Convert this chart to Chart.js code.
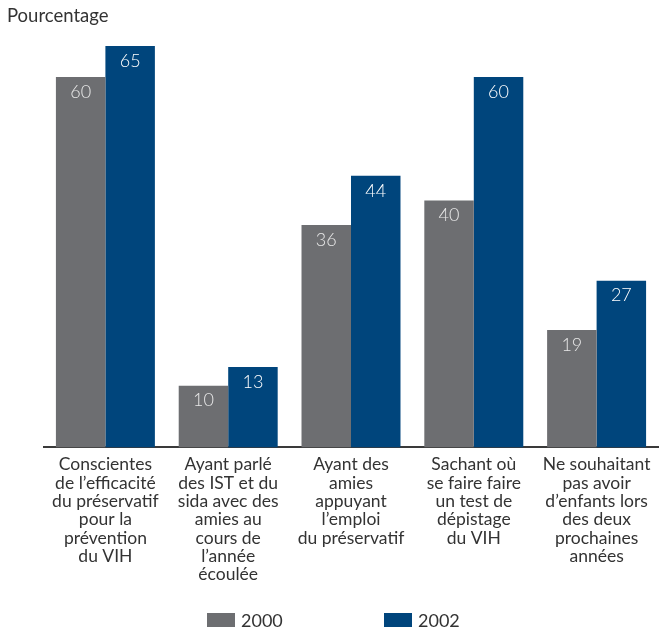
<!DOCTYPE html>
<html>
<head>
<meta charset="utf-8">
<script src="https://cdn.jsdelivr.net/npm/chart.js@4"></script>
<style>
  html, body { margin: 0; padding: 0; background: #ffffff; }
  #wrap { position: relative; width: 659px; height: 627px; overflow: hidden; }
  #c { position: absolute; left: 0; top: 0; }
  .lg-box { position: absolute; top: 613px; width: 28px; height: 22px; }
  .lg-txt { position: absolute; top: 609px; font-family: Lato, sans-serif; font-size: 18px; line-height: 22px; color: #333333; }
</style>
</head>
<body>
<div id="wrap">
  <canvas id="c" width="659" height="627"></canvas>
  <div class="lg-box" style="left:207px;background:#6d6e71"></div>
  <div class="lg-txt" style="left:241px">2000</div>
  <div class="lg-box" style="left:384px;background:#00457c"></div>
  <div class="lg-txt" style="left:418px">2002</div>
</div>
<script>
const categories = [
  ["Conscientes", "de l\u2019efficacit\u00e9", "du pr\u00e9servatif", "pour la", "pr\u00e9vention", "du VIH"],
  ["Ayant parl\u00e9", "des IST et du", "sida avec des", "amies au", "cours de", "l\u2019ann\u00e9e", "\u00e9coul\u00e9e"],
  ["Ayant des", "amies", "appuyant", "l\u2019emploi", "du pr\u00e9servatif"],
  ["Sachant o\u00f9", "se faire faire", "un test de", "d\u00e9pistage", "du VIH"],
  ["Ne souhaitant", "pas avoir", "d\u2019enfants lors", "des deux", "prochaines", "ann\u00e9es"]
];
const seriesNames = ["2000", "2002"];
const values2000 = [60, 10, 36, 40, 19];
const values2002 = [65, 13, 44, 60, 27];
const titleText = "Pourcentage";

const colors = ["#6d6e71", "#00457c"];
const labelColors = ["#e8e8e8", "#ffffff"];

const valueLabels = {
  id: "valueLabels",
  afterDatasetsDraw(chart) {
    const ctx = chart.ctx;
    ctx.save();
    ctx.font = "300 18px Lato, sans-serif";
    ctx.textAlign = "center";
    ctx.textBaseline = "middle";
    chart.data.datasets.forEach((ds, i) => {
      const meta = chart.getDatasetMeta(i);
      meta.data.forEach((el, j) => {
        ctx.fillStyle = labelColors[i];
        ctx.fillText(String(ds.data[j]), el.x, el.y + 15);
      });
    });
    ctx.restore();
  }
};

new Chart(document.getElementById("c"), {
  type: "bar",
  data: {
    labels: categories,
    datasets: [
      { label: seriesNames[0], data: values2000, backgroundColor: colors[0] },
      { label: seriesNames[1], data: values2002, backgroundColor: colors[1] }
    ]
  },
  options: {
    responsive: false,
    animation: false,
    events: [],
    layout: { padding: { left: 7, right: 1, top: 0, bottom: 35 } },
    datasets: { bar: { categoryPercentage: 0.806, barPercentage: 1.0 } },
    plugins: {
      legend: { display: false },
      tooltip: { enabled: false },
      title: {
        display: true,
        text: titleText,
        align: "start",
        color: "#333333",
        font: { family: "Lato, sans-serif", size: 18.5, weight: "normal" },
        padding: { top: 5, bottom: 9 }
      }
    },
    scales: {
      x: {
        grid: { display: false, drawTicks: false },
        border: { display: true, color: "#3a3a3a", width: 2 },
        ticks: {
          color: "#333333",
          padding: 8,
          maxRotation: 0,
          autoSkip: false,
          font: { family: "Lato, sans-serif", size: 17.5, lineHeight: 1.05 }
        }
      },
      y: {
        min: 0,
        max: 66.6,
        display: true,
        grid: { display: false, drawTicks: false },
        border: { display: false },
        ticks: { display: false },
        afterFit(scale) { scale.width = 37; }
      }
    }
  },
  plugins: [valueLabels]
});
</script>
</body>
</html>
